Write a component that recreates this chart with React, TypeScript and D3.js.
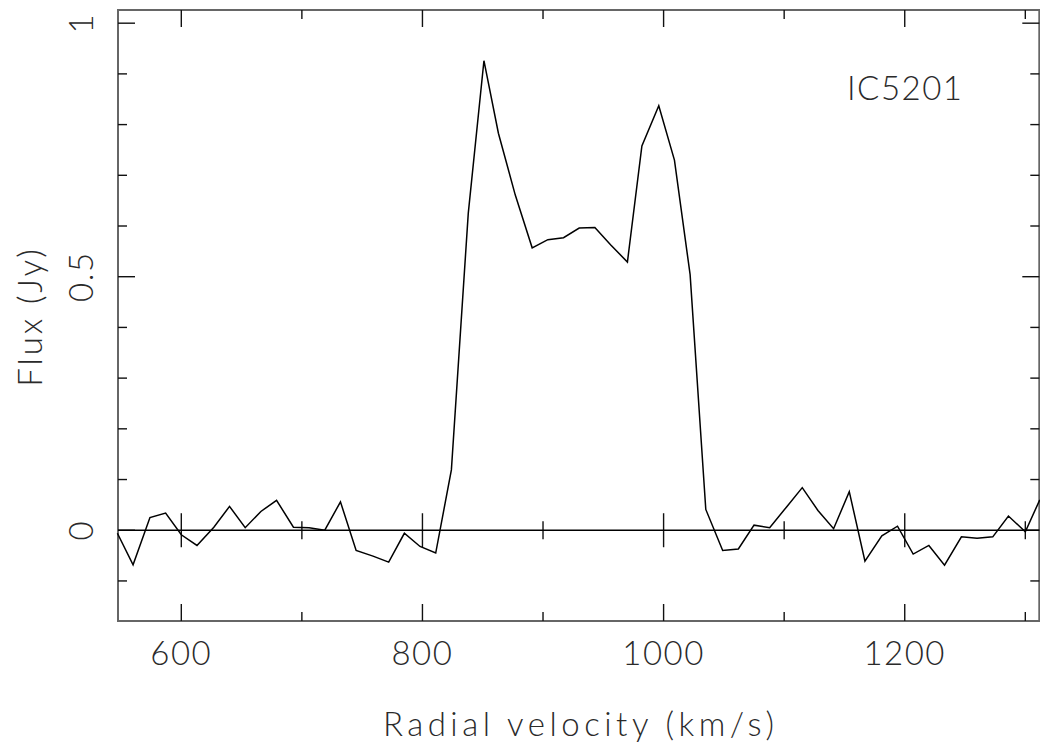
import React from "react";
import * as d3 from "d3";

const velocities: number[] = [
  547, 560, 574, 587, 600, 613, 627, 640, 653, 666, 679, 693, 706, 719, 732, 745, 759, 772, 785, 798,
  811, 824, 838, 851, 863, 877, 891, 904, 917, 930, 943, 956, 970, 982, 996, 1009, 1022, 1035, 1049,
  1062, 1075, 1088, 1102, 1115, 1128, 1141, 1154, 1167, 1181, 1194, 1207, 1220, 1233, 1247, 1260,
  1273, 1286, 1300, 1312,
];
const flux: number[] = [
  -0.006, -0.068, 0.025, 0.034, -0.009, -0.03, 0.006, 0.047, 0.005, 0.037, 0.059, 0.006, 0.005, 0.0,
  0.056, -0.04, -0.051, -0.063, -0.006, -0.032, -0.045, 0.119, 0.625, 0.926, 0.783, 0.661, 0.557,
  0.573, 0.577, 0.596, 0.597, 0.563, 0.529, 0.758, 0.837, 0.73, 0.504, 0.041, -0.04, -0.037, 0.01,
  0.005, 0.046, 0.084, 0.039, 0.003, 0.076, -0.061, -0.011, 0.008, -0.047, -0.03, -0.069, -0.013,
  -0.016, -0.013, 0.028, -0.003, 0.06,
];
const xMajorTicks: number[] = [600, 800, 1000, 1200];
const xMinorTicks: number[] = [700, 900, 1100, 1300];
const yMajorTicks: number[] = [0, 0.5, 1];
const yMinorTicks: number[] = [-0.1, 0.1, 0.2, 0.3, 0.4, 0.6, 0.7, 0.8, 0.9];
const yTickLabels: string[] = ["0", "0.5", "1"];
const xTitle = "Radial velocity (km/s)";
const yTitle = "Flux (Jy)";
const galaxyName = "IC5201";

export default function App() {
  const W = 1040;
  const H = 751;
  const left = 118;
  const right = 1039.3;
  const top = 10;
  const bottom = 621;
  const x = d3.scaleLinear().domain([547.5, 1311.6]).range([left, right]);
  const y = d3.scaleLinear().domain([-0.179, 1.026]).range([bottom, top]);
  const line = d3
    .line<number>()
    .x((_, i) => x(velocities[i]))
    .y((d) => y(d));
  const majL = 17;
  const minL = 9;
  const font = "Lato, 'Open Sans', 'Liberation Sans', sans-serif";
  const textFill = "#2a2a2a";
  const fs = 33;
  const tickStroke = "#111";
  const tw = 1.4;
  const y0 = y(0);
  return (
    <svg
      width={W}
      height={H}
      style={{ position: "absolute", left: 0, top: 0, background: "#fff" }}
      fontFamily={font}
    >
      <rect x={0} y={0} width={W} height={H} fill="#fff" />
      {/* frame */}
      <rect x={left} y={top} width={right - left} height={bottom - top} fill="none" stroke="#666" strokeWidth={2} />
      {/* x ticks */}
      {xMajorTicks.map((v) => (
        <g key={"xM" + v} stroke={tickStroke} strokeWidth={tw}>
          <line x1={x(v)} x2={x(v)} y1={bottom} y2={bottom - majL} />
          <line x1={x(v)} x2={x(v)} y1={top} y2={top + majL} />
          <line x1={x(v)} x2={x(v)} y1={y0 - majL} y2={y0 + majL} />
        </g>
      ))}
      {xMinorTicks.map((v) => (
        <g key={"xm" + v} stroke={tickStroke} strokeWidth={tw}>
          <line x1={x(v)} x2={x(v)} y1={bottom} y2={bottom - minL} />
          <line x1={x(v)} x2={x(v)} y1={top} y2={top + minL} />
          <line x1={x(v)} x2={x(v)} y1={y0 - minL} y2={y0 + minL} />
        </g>
      ))}
      {/* y ticks */}
      {yMajorTicks.map((v) => (
        <g key={"yM" + v} stroke={tickStroke} strokeWidth={tw}>
          <line x1={left} x2={left + majL} y1={y(v)} y2={y(v)} />
          <line x1={right} x2={right - majL} y1={y(v)} y2={y(v)} />
        </g>
      ))}
      {yMinorTicks.map((v) => (
        <g key={"ym" + v} stroke={tickStroke} strokeWidth={tw}>
          <line x1={left} x2={left + minL} y1={y(v)} y2={y(v)} />
          <line x1={right} x2={right - minL} y1={y(v)} y2={y(v)} />
        </g>
      ))}
      {/* zero line */}
      <line x1={left} x2={right} y1={y0} y2={y0} stroke="#000" strokeWidth={1.5} />
      {/* data */}
      <path d={line(flux) || ""} fill="none" stroke="#000" strokeWidth={1.5} strokeLinejoin="miter" />
      {/* x tick labels */}
      {xMajorTicks.map((v) => (
        <text key={"xl" + v} x={x(v)} y={665} textAnchor="middle" fontSize={fs} fill={textFill} fontWeight={300} letterSpacing={1.5}>
          {String(v)}
        </text>
      ))}
      {/* y tick labels */}
      {yMajorTicks.map((v, i) => (
        <text
          key={"yl" + v}
          transform={`translate(93,${y(v)}) rotate(-90)`}
          textAnchor="middle"
          fontSize={fs}
          fill={textFill}
          fontWeight={300}
          letterSpacing={1.5}
        >
          {yTickLabels[i]}
        </text>
      ))}
      {/* titles */}
      <text x={(left + right) / 2 + 2} y={736} textAnchor="middle" fontSize={fs} fill={textFill} fontWeight={300} letterSpacing={4.5}>
        {xTitle}
      </text>
      <text
        transform={`translate(41.5,${(top + bottom) / 2 + 1}) rotate(-90)`}
        textAnchor="middle"
        fontSize={fs}
        fill={textFill}
        fontWeight={300}
        letterSpacing={2.9}
      >
        {yTitle}
      </text>
      <text x={847} y={100} fontSize={fs} fill={textFill} fontWeight={300} letterSpacing={1.5}>
        {galaxyName}
      </text>
    </svg>
  );
}
